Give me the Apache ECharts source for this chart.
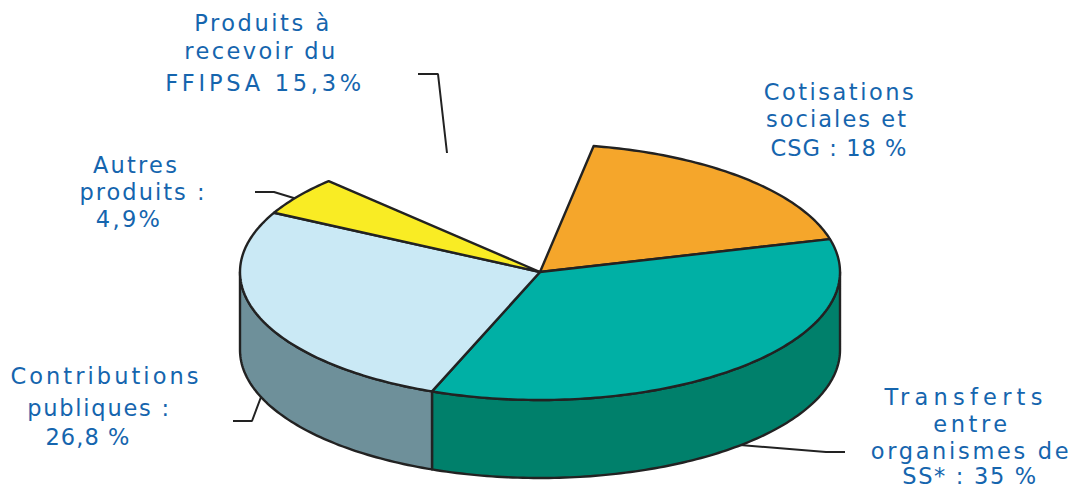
<!DOCTYPE html>
<html><head><meta charset="utf-8">
<script src="https://cdn.jsdelivr.net/npm/echarts@6/dist/echarts.min.js"></script>
<style>html,body{margin:0;padding:0;background:#fff}#c{width:1071px;height:490px}</style>
</head><body><div id="c"></div>
<script>
const categories = ['Cotisations sociales et CSG','Transferts entre organismes de SS*','Contributions publiques','Autres produits','Produits à recevoir du FFIPSA'];
const values = [18, 35, 26.8, 4.9, 15.3];
const topColors = ['#F5A62B','#00B0A5','#CAE9F5','#F9EC24',null];
const sideColors = ['#B87A1C','#00806B','#6E909A','#B8AE18',null];
const labelLines = [
 ['Produits à',263,23,135],['recevoir du',261,51,151],['FFIPSA 15,3%',265,83,196],
 ['Cotisations',840,92,150],['sociales et',837,119,140],['CSG : 18 %',839,148,136],
 ['Autres',136,165,84],['produits :',143,192,125],['4,9%',129,219,64],
 ['Contributions',106,376,188],['publiques :',99,408,142],['26,8 %',88,437,84],
 ['Transferts',966,397,158],['entre',972,424,74],['organismes de',971,451,198],['SS* : 35 %',970,476,134]
];
const leaders = [
 [[418,74],[438,74],[447,153]],
 [[255,192],[274,192],[297,199]],
 [[233,421],[252,421],[261,397]],
 [[740,445],[826,452],[845,452]]
];
const startAngle = 79.7, cx = 540, cy = 272, rx = 300, ry = 128, depth = 78;
const total = values.reduce((a,b)=>a+b,0);
const rangeOf = i => {
  const before = values.slice(0,i).reduce((a,b)=>a+b,0);
  return [startAngle - before/total*360, startAngle - (before+values[i])/total*360];
};
const pt = (deg, dy) => [cx + rx*Math.cos(deg*Math.PI/180), cy - ry*Math.sin(deg*Math.PI/180) + (dy||0)];
const arc = (a,b,dy) => { const n = Math.max(2,Math.ceil(Math.abs(a-b))); const r=[]; for(let k=0;k<=n;k++) r.push(pt(a+(b-a)*k/n,dy)); return r; };
const edge = {stroke:'#222',lineWidth:2.4,lineJoin:'round'};
const seriesData = values.map((v,i)=>({name:categories[i],value:[i,v]}));

function renderTop(params, api){
  const i = api.value(0), col = topColors[i];
  if(!col) return {type:'group',children:[]};
  const [a,b] = rangeOf(i);
  const pts = [[cx,cy]].concat(arc(a,b)).map(p=>api.coord(p));
  return {type:'polygon',shape:{points:pts},style:Object.assign({fill:col},edge)};
}
function renderSide(params, api){
  const i = api.value(0), col = sideColors[i];
  if(!col) return {type:'group',children:[]};
  let [a,b] = rangeOf(i);
  // visible front wall: parametric angles 0 .. -180
  a = Math.min(a,0); b = Math.max(b,-180);
  if(a<=b) return {type:'group',children:[]};
  const pts = arc(a,b,0).concat(arc(b,a,depth)).map(p=>api.coord(p));
  return {type:'polygon',shape:{points:pts},style:Object.assign({fill:col},edge)};
}
const chart = echarts.init(document.getElementById('c'),null,{renderer:'svg'});
chart.setOption({
  animation:false,
  backgroundColor:'#fff',
  grid:{left:0,right:0,top:0,bottom:0},
  xAxis:{type:'value',min:0,max:1071,show:false},
  yAxis:{type:'value',min:0,max:490,inverse:true,show:false},
  tooltip:{show:false},
  series:[
    {type:'custom',name:'sides',renderItem:renderSide,data:seriesData,clip:false,silent:true,z:2},
    {type:'custom',name:'tops',renderItem:renderTop,data:seriesData,clip:false,silent:true,z:3}
  ].concat(leaders.map(l=>({type:'line',data:l,symbol:'none',silent:true,z:1,
     lineStyle:{color:'#222',width:2},clip:false}))),
  graphic:labelLines.map(l=>({type:'text',x:l[1],y:l[2],silent:true,
     style:{text:l[0],fill:'#1565AE',font:'22.5px "DejaVu Sans"',textAlign:'center',textVerticalAlign:'middle'}}))
});
function fit(){
  const targets = {}; labelLines.forEach(l=>targets[l[0]]=l[3]);
  document.querySelectorAll('#c svg text').forEach(t=>{
    const s=t.textContent, w=targets[s];
    if(w===undefined) return;
    t.style.letterSpacing='0px';
    const base=t.getComputedTextLength();
    t.style.letterSpacing=((w-base)/(s.length-1)).toFixed(2)+'px';
  });
}
chart.on('finished',fit);
fit();
</script></body></html>
